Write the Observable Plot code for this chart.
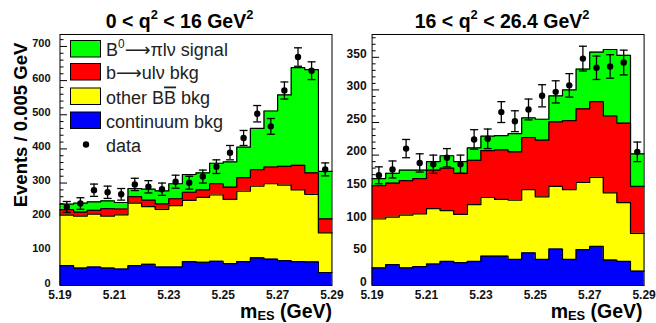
<!DOCTYPE html>
<html>
<head>
<meta charset="utf-8">
<script src="https://cdn.jsdelivr.net/npm/d3@7"></script>
<script src="https://cdn.jsdelivr.net/npm/@observablehq/plot@0.6"></script>
<style>
  body { margin: 0; background: #fff; }
  #chart { position: relative; width: 656px; height: 323px; overflow: hidden;
           font-family: "Liberation Sans", Arial, sans-serif; }
  #chart svg { position: absolute; top: 0; overflow: visible; }
</style>
</head>
<body>
<div id="chart"></div>
<script>
// m_ES binning: 20 bins of 5 MeV
const binLow = 5.19, binHigh = 5.29, binWidth = 0.005;
const xTicks = [5.19, 5.21, 5.23, 5.25, 5.27, 5.29];

// Stack components (top to bottom) and their fill colours
const stackColors = ["#00ff00", "#ff0000", "#ffff00", "#0000ff"];
const legendLabels = ["B^{0}⟶πlν signal", "b⟶ulν bkg", "other B#bar{B} bkg", "continuum bkg", "data"];

// 0 < q^2 < 16 GeV^2 : cumulative stack heights per bin
const lowContinuum = [58, 51, 54, 51, 48, 58, 62, 54, 54, 70, 68, 71, 64, 70, 81, 77, 73, 70, 69, 38];
const lowOtherBB   = [206, 203, 209, 203, 207, 241, 231, 223, 234, 249, 258, 265, 252, 276, 291, 298, 294, 280, 267, 154];
const lowBtoU      = [222, 215, 220, 225, 224, 260, 250, 239, 254, 273, 280, 298, 288, 316, 339, 347, 349, 352, 330, 195];
const lowSignal    = [238, 241, 245, 248, 243, 284, 282, 277, 298, 325, 330, 358, 362, 405, 460, 511, 558, 638, 632, 334];
const lowData      = [230, 240, 279, 273, 267, 296, 289, 282, 304, 301, 319, 348, 389, 432, 503, 466, 571, 669, 629, 340];
const lowErr       = [16, 17, 18, 18, 17, 18, 18, 18, 19, 19, 19, 20, 21, 22, 24, 23, 25, 27, 26, 19];
const lowYTicks    = [0, 100, 200, 300, 400, 500, 600, 700];

// 16 < q^2 < 26.4 GeV^2 : cumulative stack heights per bin
const highContinuum = [27, 32, 27, 29, 33, 37, 35, 37, 45, 45, 40, 50, 40, 56, 40, 55, 60, 39, 37, 22];
const highOtherBB   = [102, 105, 108, 110, 118, 115, 109, 124, 135, 132, 131, 147, 136, 152, 147, 158, 166, 142, 127, 80];
const highBtoU      = [153, 157, 161, 164, 177, 180, 172, 192, 207, 208, 205, 227, 223, 251, 253, 271, 282, 260, 249, 152];
const highSignal    = [164, 172, 177, 177, 190, 199, 190, 211, 229, 230, 233, 257, 255, 291, 300, 332, 358, 362, 353, 202];
const highData      = [169, 178, 210, 188, 186, 196, 186, 224, 225, 266, 252, 270, 291, 297, 307, 348, 334, 336, 342, 205];
const highErr       = [13, 13, 14, 14, 14, 14, 14, 15, 15, 16, 16, 16, 17, 17, 18, 19, 18, 18, 19, 15];
const highYTicks    = [0, 50, 100, 150, 200, 250, 300, 350];

const yTitle = "Events / 0.005 GeV";
const xTitle = "m_{ES} (GeV)";

// step outline: one point per bin low edge plus the closing edge
function stepPoints(tops) {
  const pts = tops.map((v, i) => ({x: binLow + i * binWidth, y: v}));
  pts.push({x: binHigh, y: tops[tops.length - 1]});
  return pts;
}

// small path symbols: error-bar caps and inward axis ticks
const capSymbol = {draw(ctx) { ctx.moveTo(-4, 0); ctx.lineTo(4, 0); }};
const majorTick = {draw(ctx) { ctx.moveTo(0, 0); ctx.lineTo(7, 0); }};
const minorTick = {draw(ctx) { ctx.moveTo(0, 0); ctx.lineTo(3.5, 0); }};

// minimal TLatex-like markup: ^{sup}, _{sub}, #bar{x}
function setRichText(textEl, src, fontSize) {
  const el = d3.select(textEl);
  el.text(null);
  const parts = src.split(/(\^\{[^}]*\}|_\{[^}]*\}|#bar\{[^}]*\})/g).filter(s => s !== "");
  const up = fontSize * 0.42, down = fontSize * 0.14, small = fontSize * 0.66;
  let pending = 0;
  for (const p of parts) {
    let m;
    if ((m = p.match(/^\^\{(.*)\}$/))) {
      el.append("tspan").attr("dy", pending - up).attr("font-size", small).text(m[1]);
      pending = up;
    } else if ((m = p.match(/^_\{(.*)\}$/))) {
      el.append("tspan").attr("dy", pending + down).attr("font-size", small).text(m[1]);
      pending = -down;
    } else if ((m = p.match(/^#bar\{(.*)\}$/))) {
      el.append("tspan").attr("dy", pending).style("text-decoration", "overline").text(m[1]);
      pending = 0;
    } else {
      el.append("tspan").attr("dy", pending).text(p);
      pending = 0;
    }
  }
}

function applyMarkup(svg) {
  d3.select(svg).selectAll("text").each(function () {
    const s = this.textContent;
    if (/\^\{|_\{|#bar\{/.test(s)) {
      const holder = this.closest("[font-size]");
      const fs = holder ? parseFloat(holder.getAttribute("font-size")) : 12;
      setRichText(this, s, fs);
    }
  });
}

function panel(o) {
  const components = [o.signal, o.btou, o.otherBB, o.continuum];
  const points = o.data.map((v, i) => ({x: binLow + (i + 0.5) * binWidth, y: v, e: o.err[i]}));
  const majors = o.yTicks.map(v => ({x: binLow, y: v}));
  const minors = d3.range(0, o.yMax, o.minorStep)
    .filter(v => !o.yTicks.includes(v))
    .map(v => ({x: binLow, y: v}));

  const marks = [
    Plot.dot(minors, {x: "x", y: "y", symbol: minorTick, stroke: "black", strokeWidth: 1}),
    Plot.dot(majors, {x: "x", y: "y", symbol: majorTick, stroke: "black", strokeWidth: 1})
  ];
  components.forEach((tops, k) => {
    const pts = stepPoints(tops);
    marks.push(Plot.areaY(pts, {x: "x", y: "y", curve: "step-after", fill: stackColors[k]}));
    marks.push(Plot.lineY(pts, {x: "x", y: "y", curve: "step-after", stroke: "black", strokeWidth: 1.2}));
  });
  marks.push(
    Plot.ruleX(points, {x: "x", y1: d => d.y - d.e, y2: d => d.y + d.e, stroke: "black", strokeWidth: 1.3}),
    Plot.dot(points, {x: "x", y: d => d.y - d.e, symbol: capSymbol, stroke: "black", strokeWidth: 1.3}),
    Plot.dot(points, {x: "x", y: d => d.y + d.e, symbol: capSymbol, stroke: "black", strokeWidth: 1.3}),
    Plot.dot(points, {x: "x", y: "y", r: 3.2, fill: "black"}),
    Plot.frame({stroke: "black", strokeWidth: 1}),
    Plot.axisX(xTicks, {tickSize: 0, tickPadding: 4.5, tickFormat: d3.format(".2f"),
      fontSize: 12, fontWeight: "bold", fill: "#111", label: null}),
    Plot.axisY(o.yTicks, {tickSize: 0, tickPadding: o.tickPad, fontSize: o.tickFont, dy: o.tickDy,
      fontWeight: "bold", fill: "#111", label: null}),
    Plot.text([o.title], {frameAnchor: "top", lineAnchor: "bottom", dx: o.titleDx, dy: -7,
      fontSize: 19.5, fontWeight: "bold", fill: "black"}),
    Plot.text([xTitle], {frameAnchor: "bottom-right", textAnchor: "end", lineAnchor: "bottom",
      dx: o.xTitleDx, dy: 32, fontSize: 19.5, fontWeight: "bold", fill: "black"})
  );
  if (o.showYTitle) {
    marks.push(Plot.text([yTitle], {frameAnchor: "left", textAnchor: "middle", lineAnchor: "middle",
      rotate: -90, dx: -39, dy: -35, fontSize: 18.5, fontWeight: "bold", fill: "black"}));
  }

  const svg = Plot.plot({
    width: o.width, height: 323,
    marginLeft: o.marginLeft, marginRight: o.marginRight, marginTop: 34, marginBottom: 38,
    x: {domain: [binLow, binHigh]},
    y: {domain: [0, o.yMax]},
    style: {fontFamily: "'Liberation Sans', Arial, sans-serif", background: "transparent", overflow: "visible"},
    marks
  });
  svg.style.left = o.left + "px";
  applyMarkup(svg);
  return svg;
}

const chart = document.getElementById("chart");

const leftSvg = panel({
  left: 0, width: 336, marginLeft: 59.5, marginRight: 4.5,
  yMax: 735, yTicks: lowYTicks, minorStep: 20, tickPad: 9.5, tickFont: 11, tickDy: -2.5,
  signal: lowSignal, btou: lowBtoU, otherBB: lowOtherBB, continuum: lowContinuum,
  data: lowData, err: lowErr,
  title: "0 < q^{2} < 16 GeV^{2}", titleDx: -16.5, xTitleDx: 0, showYTitle: true
});
chart.appendChild(leftSvg);

const rightSvg = panel({
  left: 336, width: 320, marginLeft: 35.6, marginRight: 12.4,
  yMax: 385, yTicks: highYTicks, minorStep: 10, tickPad: 5.5, tickFont: 12, tickDy: -3.5,
  signal: highSignal, btou: highBtoU, otherBB: highOtherBB, continuum: highContinuum,
  data: highData, err: highErr,
  title: "16 < q^{2} < 26.4 GeV^{2}", titleDx: -6, xTitleDx: -1.5, showYTitle: false
});
chart.appendChild(rightSvg);

// legend box drawn over the low-q^2 frame
const legendTops = [40.5, 63.5, 88, 112, 136];
const legendSvg = d3.create("svg")
  .attr("width", 336).attr("height", 160)
  .style("left", "0px")
  .attr("font-family", "'Liberation Sans', 'DejaVu Sans', Arial, sans-serif")
  .attr("font-size", 18);
legendLabels.forEach((label, i) => {
  const top = legendTops[i];
  if (i < stackColors.length) {
    legendSvg.append("rect").attr("x", 70.5).attr("y", top).attr("width", 30).attr("height", 16.5)
      .attr("fill", stackColors[i]).attr("stroke", "black").attr("stroke-width", 1);
  } else {
    legendSvg.append("circle").attr("cx", 86).attr("cy", top + 8.5).attr("r", 3.2).attr("fill", "black");
  }
  const t = legendSvg.append("text").attr("x", 106).attr("y", top + 15.5)
    .attr("text-anchor", "start").attr("fill", "#222");
  setRichText(t.node(), label, 18);
});
chart.appendChild(legendSvg.node());
</script>
</body>
</html>
